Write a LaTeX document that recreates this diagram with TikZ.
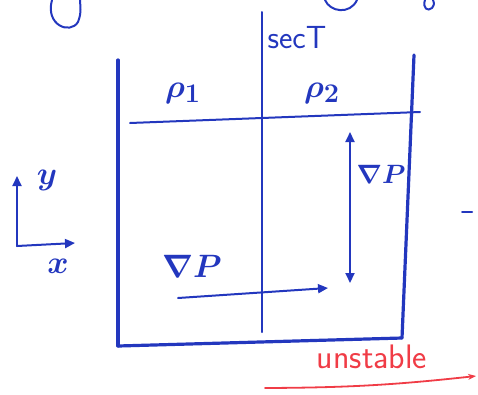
\documentclass[tikz,border=0pt]{standalone}
\usetikzlibrary{arrows.meta}
\definecolor{ink}{RGB}{35,55,190}
\definecolor{redink}{RGB}{240,60,70}
\tikzset{
  pen/.style={draw=ink, line width=2pt, line cap=round, line join=round},
  wall/.style={draw=ink, line width=3.2pt, line cap=round},
  arr/.style={pen, -{Triangle[length=10pt,width=9pt]}},
  darr/.style={pen, {Triangle[length=10pt,width=9pt]}-{Triangle[length=10pt,width=9pt]}},
  lbl/.style={text=ink, font=\fontsize{32}{34}\selectfont\sffamily\boldmath, scale=1.3},
  rlbl/.style={text=redink, font=\fontsize{34}{36}\selectfont\sffamily}
}
\begin{document}
\begin{tikzpicture}[x=1pt,y=-1pt]
\useasboundingbox (0,0) rectangle (478,394);
% box
\coordinate (tl) at (118,60);
\coordinate (bl) at (118,346);
\coordinate (tr) at (414,55);
\coordinate (br) at (402,338);
\draw[wall] (tl) -- (bl);
\draw[wall] (tr) -- (br);
\draw[wall] (bl) -- (br);
% interface line
\coordinate (il) at (130,123);
\coordinate (ir) at (420,112);
\draw[pen] (il) -- (ir);
% section line
\coordinate (st) at (262,12);
\coordinate (sb) at (262,332);
\draw[pen] (st) -- (sb);
\node[text=ink, anchor=west, font=\fontsize{32}{34}\selectfont\sffamily] (sect) at (264,38) {secT};
\node[lbl] (r1) at (183,93) {$\rho_1$};
\node[lbl] (r2) at (322,93) {$\rho_2$};
% gradient arrows
\coordinate (va) at (350,132);
\coordinate (vb) at (350,283);
\draw[darr] (va) -- (vb);
\node[lbl, scale=0.82] (gp1) at (381,174) {$\nabla P$};
\coordinate (ha) at (178,298);
\coordinate (hb) at (328,288);
\draw[arr] (ha) -- (hb);
\node[lbl] (gp2) at (192,266) {$\nabla P$};
% axes
\coordinate (o) at (17,246);
\coordinate (ye) at (17,176);
\coordinate (xe) at (75,243);
\draw[arr] (o) -- (ye);
\draw[arr] (o) -- (xe);
\node[lbl] (yl) at (47,180) {$y$};
\node[lbl] (xl) at (58,266) {$x$};
% unstable
\node[rlbl] (un) at (372,357) {unstable};
\coordinate (ua) at (265,388);
\coordinate (ub) at (476,376);
\draw[draw=redink, line width=1.8pt, line cap=round, -{Stealth[length=8pt]}] (ua) to[bend right=3] (ub);
% partial strokes at top
\draw[pen] (52,0) .. controls (45,25) and (70,35) .. (78,22) .. controls (82,12) and (80,5) .. (80,0);
\draw[pen] (325,0) .. controls (330,12) and (350,15) .. (357,0);
\draw[pen] (425,0) .. controls (422,8) and (428,12) .. (432,8) .. controls (435,4) and (434,2) .. (433,0);
\draw[pen] (462,212) -- (472,212);
\end{tikzpicture}
\end{document}
